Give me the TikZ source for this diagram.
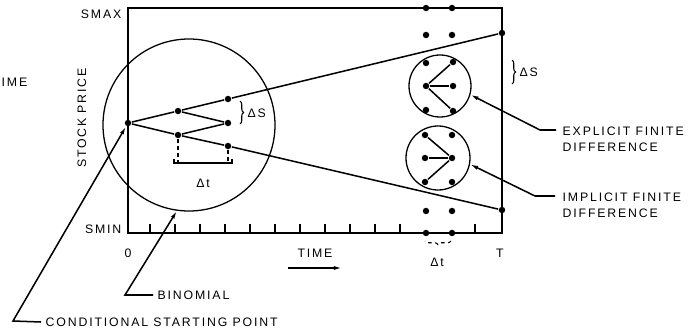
\documentclass[tikz,border=0pt]{standalone}
\usepackage{fontspec}
\setmainfont{Liberation Sans}[LetterSpace=15]
\usepackage{tikz}
\usetikzlibrary{arrows.meta,calc,decorations.pathreplacing}

\begin{document}
\begin{tikzpicture}[x=0.03cm,y=-0.03cm,>={Latex[length=7pt,width=3.5pt]},line width=1.3pt,
    every node/.style={font=\fontsize{10.5}{14}\selectfont,align=left},
    dot/.style={circle,fill,inner sep=0pt,minimum size=5.5pt},
    ring/.style={circle,draw,inner sep=0pt,line width=1.1pt},
    dbrace/.style={decorate,decoration={brace,amplitude=3pt},line width=0.9pt}]
    \useasboundingbox (0,0) rectangle (695,332);
    \coordinate (smax) at (128,8);
    \coordinate (tmax) at (502,233);
    \draw (smax) rectangle (tmax);
    \foreach \t in {150,175,...,400,475}
        \draw[line width=1pt] (\t,233) -- (\t,224);
    \node[anchor=east] (smaxl) at (126,14) {SMAX};
    \node[anchor=east] (sminl) at (126,229) {SMIN};
    \node[rotate=90] (pricel) at (82,118) {STOCK PRICE};
    \node[anchor=west] (imel) at (-3,82) {IME};
    \node (zerol) at (128,253) {0};
    \node (timel) at (315,253) {TIME};
    \node (tl) at (500,253) {T};
    \coordinate (ta) at (288,268);
    \coordinate (tb) at (342,268);
    \draw[->] (ta) -- (tb);

    \node[ring,minimum size=5.16cm] (binom) at (189,125) {};
    \node[dot] (s0) at (128,123) {};
    \node[dot] (u1) at (178,111) {};
    \node[dot] (d1) at (178,135) {};
    \node[dot] (u2) at (228,99) {};
    \node[dot] (m2) at (228,123) {};
    \node[dot] (d2) at (228,146) {};
    \node[dot] (uT) at (502,33) {};
    \node[dot] (dT) at (502,210) {};
    \draw (s0) -- (u1) -- (u2) -- (uT);
    \draw (s0) -- (d1) -- (d2) -- (dT);
    \draw (u1) -- (m2) -- (d1);
    \draw[dbrace] (240,101) -- (240,124);
    \node[anchor=west] (ds1) at (243,113) {ΔS};
    \coordinate (dtl) at (174,163);
    \coordinate (dtr) at (232,163);
    \draw[dashed,line width=0.9pt] (d1) -- (d1 |- dtl);
    \draw[dashed,line width=0.9pt] (d2) -- (d2 |- dtr);
    \draw[line width=0.9pt] ($(dtl)+(0,-4)$) -- (dtl) -- (dtr) -- ++(0,-4);
    \node (dt1) at (203,183) {Δt};

    \node[ring,minimum size=1.86cm] (expl) at (440,86) {};
    \node[dot] (e0) at (426,86) {};
    \node[dot] (e1) at (453,62) {};
    \node[dot] (e2) at (453,86) {};
    \node[dot] (e3) at (453,111) {};
    \node[dot] (ea) at (426,63) {};
    \node[dot] (eb) at (426,110) {};
    \draw (e0) -- (e1);
    \draw (e0) -- (e2);
    \draw (e0) -- (e3);
    \node[ring,minimum size=1.92cm] (impl) at (438,158) {};
    \node[dot] (i0) at (452,158) {};
    \node[dot] (i1) at (425,135) {};
    \node[dot] (i2) at (425,158) {};
    \node[dot] (i3) at (425,182) {};
    \node[dot] (ia) at (452,135) {};
    \node[dot] (ib) at (452,182) {};
    \draw (i1) -- (i0);
    \draw (i2) -- (i0);
    \draw (i3) -- (i0);
    \foreach \x/\n in {426/a,452/b} {
        \node[dot] (top\n) at (\x,8) {};
        \node[dot] (nxt\n) at (\x,35) {};
        \node[dot] (low\n) at (\x,211) {};
        \node[dot] (bot\n) at (\x,233) {};
    }
    \draw[dbrace] (512,60) -- (512,84);
    \node[anchor=west] (ds2) at (515,72) {ΔS};
    \draw[dbrace,dashed] (451,241) -- (425,241);
    \node (dt2) at (437,262) {Δt};

    \node[anchor=west] (binl) at (153,295) {BINOMIAL};
    \coordinate (bink) at (125,295);
    \draw[->] (binl.west) -- (bink) -- (binom.262);
    \node[anchor=west] (condl) at (41,322) {CONDITIONAL STARTING POINT};
    \coordinate (condk) at (13,321);
    \draw[->] (condl.west) -- (condk) -- (s0);
    \node[anchor=west] (expll) at (558,139) {EXPLICIT FINITE\\DIFFERENCE};
    \coordinate (explend) at (556,130);
    \coordinate (explk) at (540,130);
    \draw[->] (explend) -- (explk) -- (expl.-16);
    \node[anchor=west] (impll) at (558,205) {IMPLICIT FINITE\\DIFFERENCE};
    \coordinate (implend) at (555,196);
    \coordinate (implk) at (535,196);
    \draw[->] (implend) -- (implk) -- (impl.-11);
\end{tikzpicture}
\end{document}
